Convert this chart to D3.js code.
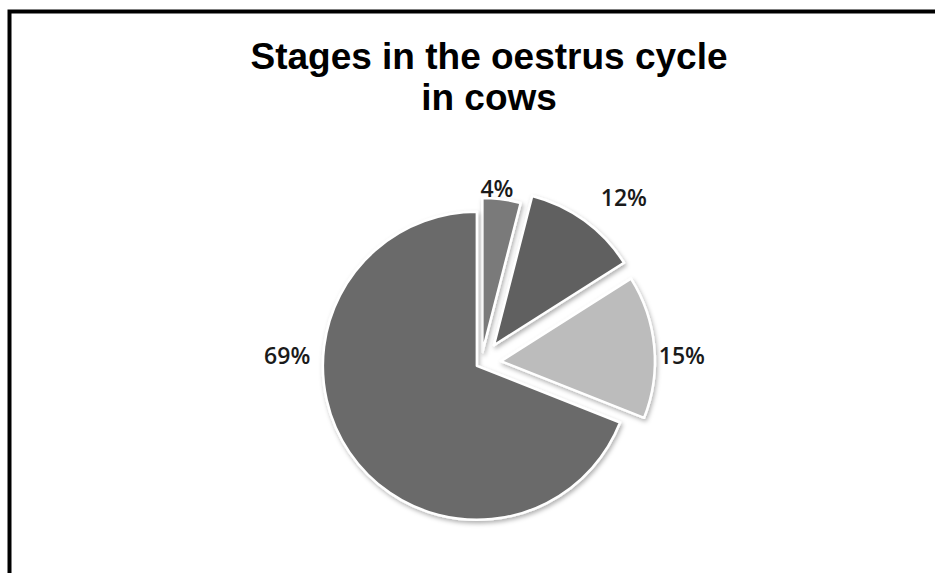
<!DOCTYPE html>
<html>
<head>
<meta charset="utf-8">
<script src="https://cdn.jsdelivr.net/npm/d3@7/dist/d3.min.js"></script>
<style>
  html, body { margin: 0; padding: 0; background: #fff; }
  svg { display: block; }
</style>
</head>
<body>
<svg id="chart" width="935" height="573"></svg>
<script>
// ---- data ----
const categories = ["Stage A", "Stage B", "Stage C", "Stage D"];
const values = [4, 12, 15, 69];
const labels = ["4%", "12%", "15%", "69%"];
const titleLines = ["Stages in the oestrus cycle", "in cows"];

// ---- styles / layout ----
const colors = ["#7a7a7a", "#616161", "#bcbcbc", "#6b6b6b"];
const explode = [11, 22, 20, 5];          // px offset of each slice
const labelAngleDeg = [5.2, 40.7, 87.7, 272.4];
const labelRadius = [176, 219, 201, 194];

const W = 935, H = 573;
const cx = 481, cy = 363, R = 154;

const svg = d3.select("#chart");

// frame (top and left edges visible)
svg.append("path")
  .attr("d", `M9.5,${H + 5} L9.5,11.5 L${W + 5},11.5`)
  .attr("fill", "none")
  .attr("stroke", "#000")
  .attr("stroke-width", 4);

// title
const title = svg.append("text")
  .attr("text-anchor", "middle")
  .attr("font-family", "'Liberation Sans', Arial, sans-serif")
  .attr("font-weight", "bold")
  .attr("font-size", 37)
  .attr("fill", "#000");
title.selectAll("tspan").data(titleLines).join("tspan")
  .attr("x", 489)
  .attr("y", (d, i) => 69 + i * 41)
  .text(d => d);

// shadow filter
const defs = svg.append("defs");
const f = defs.append("filter").attr("id", "shadow")
  .attr("x", "-20%").attr("y", "-20%").attr("width", "140%").attr("height", "140%");
f.append("feDropShadow")
  .attr("dx", 1.5).attr("dy", 2.5)
  .attr("stdDeviation", 2.2)
  .attr("flood-color", "#000")
  .attr("flood-opacity", 0.3);

const pie = d3.pie().sort(null).value(d => d);
const arcs = pie(values);
const arc = d3.arc().innerRadius(0).outerRadius(R);

const g = svg.append("g").attr("transform", `translate(${cx},${cy})`);

g.selectAll("path.slice").data(arcs).join("path")
  .attr("class", "slice")
  .attr("d", arc)
  .attr("transform", (d, i) => {
    const a = (d.startAngle + d.endAngle) / 2;
    return `translate(${Math.sin(a) * explode[i]},${-Math.cos(a) * explode[i]})`;
  })
  .attr("fill", (d, i) => colors[i])
  .attr("stroke", "#fff")
  .attr("stroke-width", 2.5)
  .attr("stroke-linejoin", "round")
  .attr("filter", "url(#shadow)");

// labels
g.selectAll("text.lbl").data(arcs).join("text")
  .attr("class", "lbl")
  .attr("transform", (d, i) => {
    const a = labelAngleDeg[i] * Math.PI / 180;
    const la = d3.arc().innerRadius(labelRadius[i]).outerRadius(labelRadius[i]);
    const c = la.centroid({ startAngle: a, endAngle: a });
    return `translate(${c[0]},${c[1]})`;
  })
  .attr("text-anchor", "middle")
  .attr("dominant-baseline", "central")
  .attr("font-family", "'Open Sans', sans-serif")
  .attr("font-weight", 600)
  .attr("font-size", 23)
  .attr("fill", "#1a1a1a")
  .text((d, i) => labels[i]);
</script>
</body>
</html>
